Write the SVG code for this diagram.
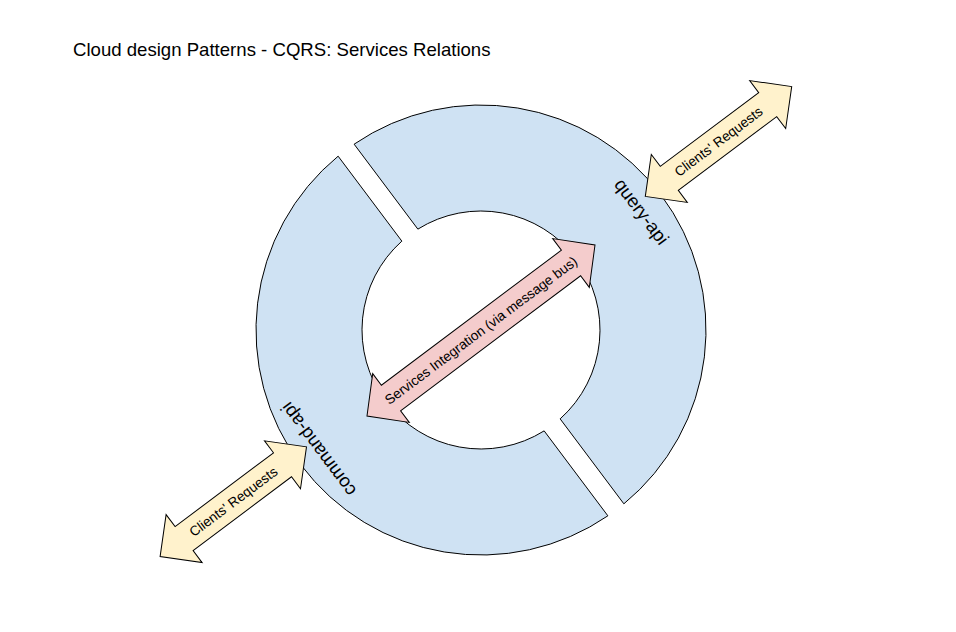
<svg xmlns="http://www.w3.org/2000/svg" width="956" height="632" viewBox="0 0 956 632">
  <style>
    .ring { fill: #cfe2f3; stroke: #000000; stroke-width: 1; }
    .client { fill: #fff2cc; stroke: #000000; stroke-width: 1; }
    .bus { fill: #f4cccc; stroke: #000000; stroke-width: 1; }
    text { font-family: "Liberation Sans", Arial, sans-serif; fill: #000000; }
    .title { font-size: 18.6px; }
    .svc { font-size: 18.5px; text-anchor: middle; }
    .lbl { font-size: 13.7px; text-anchor: middle; }
  </style>
  <rect width="956" height="632" fill="#ffffff"/>
  <text id="title" class="title" x="73" y="56">Cloud design Patterns - CQRS: Services Relations</text>

  <g id="command-api">
    <path class="ring" d="M 338.13,156.18 A 225 225 0 0 0 607.87,515.82 L 544.15,430.86 A 119 119 0 0 1 401.85,241.14 Z"/>
    <text class="svc" transform="translate(319,449) rotate(-126.87)" dy="0.3em">command-api</text>
  </g>

  <g id="query-api">
    <path class="ring" d="M 354.13,144.18 A 225 225 0 0 1 623.87,503.82 L 560.15,418.86 A 119 119 0 0 0 417.85,229.14 Z"/>
    <text class="svc" transform="translate(641,212) rotate(53.13)" dy="0.3em">query-api</text>
  </g>

  <g id="connectors">
    <g id="services-integration" transform="translate(481,330.5) rotate(-36.87)">
      <polygon class="bus" points="-142.5,0 -112.5,-30.5 -112.5,-16 112.5,-16 112.5,-30.5 142.5,0 112.5,30.5 112.5,16 -112.5,16 -112.5,30.5"/>
      <text class="lbl" x="0" y="0" dy="0.35em">Services Integration (via message bus)</text>
    </g>
    <g id="clients-query" transform="translate(718.5,141.5) rotate(-36.87)">
      <polygon class="client" points="-91.5,0 -61.5,-30 -61.5,-15 61.5,-15 61.5,-30 91.5,0 61.5,30 61.5,15 -61.5,15 -61.5,30"/>
      <text class="lbl" x="0" y="0" dy="0.35em">Clients' Requests</text>
    </g>
    <g id="clients-command" transform="translate(233.3,501.7) rotate(-36.87)">
      <polygon class="client" points="-91.5,0 -61.5,-30 -61.5,-15 61.5,-15 61.5,-30 91.5,0 61.5,30 61.5,15 -61.5,15 -61.5,30"/>
      <text class="lbl" x="0" y="0" dy="0.35em">Clients' Requests</text>
    </g>
  </g>
</svg>
